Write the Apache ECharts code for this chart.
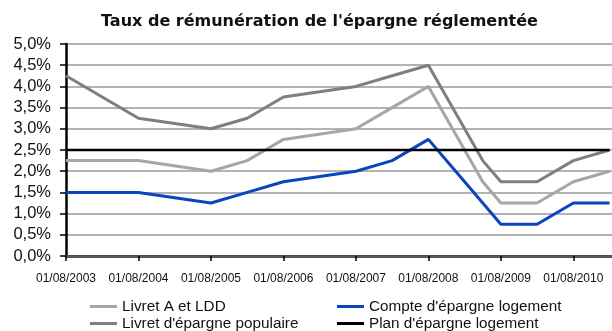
<!DOCTYPE html>
<html>
<head>
<meta charset="utf-8">
<script src="https://cdn.jsdelivr.net/npm/echarts@6/dist/echarts.min.js"></script>
<style>
  html, body { margin: 0; padding: 0; background: #fff; }
  #chart { width: 612px; height: 331px; }
</style>
</head>
<body>
<div id="chart"></div>
<script>
// Dates at which the regulated savings rates changed (dd/mm/yyyy)
var dates = ['01/08/2003', '01/08/2004', '01/08/2005', '01/02/2006', '01/08/2006',
             '01/08/2007', '01/02/2008', '01/08/2008', '01/02/2009', '01/05/2009',
             '01/08/2009', '01/02/2010', '01/08/2010', '01/02/2011'];

// Rates in percent
var livretA = [2.25, 2.25, 2.0, 2.25, 2.75, 3.0, 3.5, 4.0, 2.5, 1.75, 1.25, 1.25, 1.75, 2.0];
var lep     = [4.25, 3.25, 3.0, 3.25, 3.75, 4.0, 4.25, 4.5, 3.0, 2.25, 1.75, 1.75, 2.25, 2.5];
var cel     = [1.5, 1.5, 1.25, 1.5, 1.75, 2.0, 2.25, 2.75, 1.75, 1.25, 0.75, 0.75, 1.25, 1.25];
var pel     = [2.5, 2.5, 2.5, 2.5, 2.5, 2.5, 2.5, 2.5, 2.5, 2.5, 2.5, 2.5, 2.5, 2.5];

var seriesNames = ['Livret A et LDD', "Livret d'épargne populaire",
                   "Compte d'épargne logement", "Plan d'épargne logement"];

// Axis ticks: one per year, each on 1 August
var yearTicks = ['01/08/2003', '01/08/2004', '01/08/2005', '01/08/2006',
                 '01/08/2007', '01/08/2008', '01/08/2009', '01/08/2010'];
var rateTicks = ['0,0%', '0,5%', '1,0%', '1,5%', '2,0%', '2,5%', '3,0%', '3,5%', '4,0%', '4,5%', '5,0%'];

// Months elapsed since August 2003
function monthIndex(s) {
  var p = s.split('/');
  return (parseInt(p[2], 10) - 2003) * 12 + (parseInt(p[1], 10) - 8);
}
function pairs(values) {
  return dates.map(function (d, i) { return [monthIndex(d), values[i]]; });
}

var chart = echarts.init(document.getElementById('chart'), null, { renderer: 'canvas' });

var lineSeries = function (name, values, color, width) {
  return {
    name: name,
    type: 'line',
    data: pairs(values),
    symbol: 'none',
    lineStyle: { color: color, width: width },
    itemStyle: { color: color },
    clip: true,
    animation: false
  };
};

var legendText = { fontFamily: 'Liberation Sans, Arial, sans-serif', fontSize: 15.3, color: '#111', lineHeight: 17 };

function legendColumn(left, names) {
  return {
    orient: 'vertical', left: left, top: 298, width: 260, height: 40,
    padding: 0, itemGap: 0,
    itemWidth: 27, itemHeight: 3, icon: 'rect',
    data: names,
    textStyle: legendText
  };
}

chart.setOption({
  animation: false,
  backgroundColor: '#fff',
  title: {
    text: "Taux de rémunération de l'épargne réglementée",
    left: 101,
    top: 14,
    padding: 0,
    textStyle: { fontFamily: 'DejaVu Sans, sans-serif', fontWeight: 'bold', fontSize: 16, color: '#111' }
  },
  grid: { left: 66, right: 0, top: 44, height: 212, containLabel: false },
  legend: [
    legendColumn(90, [seriesNames[0], seriesNames[1]]),
    legendColumn(337, [seriesNames[2], seriesNames[3]])
  ],
  xAxis: [
    {
      type: 'value',
      min: 0,
      max: 90.4,
      interval: 12,
      axisLine: { show: true, onZero: false, lineStyle: { color: '#000', width: 2.5 } },
      axisTick: { show: true, length: 5, lineStyle: { color: '#000', width: 1.5 } },
      splitLine: { show: false },
      axisLabel: {
        margin: 17,
        showMinLabel: true,
        showMaxLabel: false,
        hideOverlap: false,
        fontFamily: 'Liberation Sans, Arial, sans-serif',
        fontSize: 12,
        color: '#111',
        formatter: function (v) {
          if (v % 12 !== 0) return '';
          return yearTicks[v / 12] || '';
        }
      }
    },
    {
      type: 'value',
      position: 'top',
      min: 0,
      max: 90.4,
      axisLine: { show: true, lineStyle: { color: '#595959', width: 2.5 } },
      axisTick: { show: false },
      axisLabel: { show: false },
      splitLine: { show: false }
    }
  ],
  yAxis: {
    type: 'value',
    min: 0,
    max: 5,
    interval: 0.5,
    axisLine: { show: true, lineStyle: { color: '#000', width: 2.5 } },
    axisTick: { show: true, length: 6, lineStyle: { color: '#000', width: 1.5 } },
    splitLine: { show: true, lineStyle: { color: '#b3b3b3', width: 2 } },
    axisLabel: {
      margin: 15,
      showMinLabel: true,
      fontFamily: 'Liberation Sans, Arial, sans-serif',
      fontSize: 16.5,
      color: '#111',
      formatter: function (v) { return rateTicks[Math.round(v / 0.5)]; }
    }
  },
  series: [
    lineSeries(seriesNames[0], livretA, '#a6a6a6', 3),
    lineSeries(seriesNames[1], lep, '#7f7f7f', 3),
    lineSeries(seriesNames[2], cel, '#0a45bd', 3),
    lineSeries(seriesNames[3], pel, '#000000', 2.5)
  ]
});
</script>
</body>
</html>
